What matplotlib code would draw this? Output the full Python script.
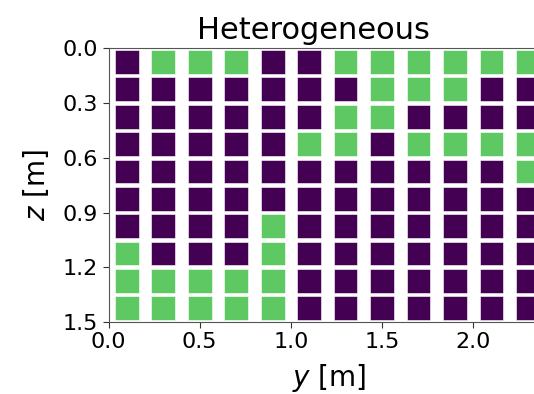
import numpy as np
import matplotlib
matplotlib.use("Agg")
import matplotlib.pyplot as plt

# Cell centres (m)
y_centres = [0.1, 0.3, 0.5, 0.7, 0.9, 1.1, 1.3, 1.5, 1.7, 1.9, 2.1, 2.3]
z_centres = [0.075, 0.225, 0.375, 0.525, 0.675, 0.825, 0.975, 1.125, 1.275, 1.425]

# Material index per cell: 0 = matrix, 1 = inclusion (rows follow z_centres)
material = [
    [0, 1, 1, 1, 0, 0, 1, 1, 1, 1, 1, 1],
    [0, 0, 0, 0, 0, 0, 0, 1, 1, 1, 0, 0],
    [0, 0, 0, 0, 0, 0, 1, 1, 0, 0, 0, 0],
    [0, 0, 0, 0, 0, 1, 1, 0, 1, 1, 1, 1],
    [0, 0, 0, 0, 0, 0, 0, 0, 0, 0, 0, 1],
    [0, 0, 0, 0, 0, 0, 0, 0, 0, 0, 0, 0],
    [0, 0, 0, 0, 1, 0, 0, 0, 0, 0, 0, 0],
    [1, 0, 0, 0, 1, 0, 0, 0, 0, 0, 0, 0],
    [1, 1, 1, 1, 1, 0, 0, 0, 0, 0, 0, 0],
    [1, 1, 1, 1, 1, 0, 0, 0, 0, 0, 0, 0],
]

x_ticks = [0.0, 0.5, 1.0, 1.5, 2.0]
z_ticks = [0.0, 0.3, 0.6, 0.9, 1.2, 1.5]

colors = {0: "#440154", 1: "#5ec962"}

fig = plt.figure(figsize=(5.34, 3.94), dpi=100)
# axes run past the right edge of the canvas
ax = fig.add_axes([0.2032, 0.1827, 0.8266, 0.6947])

Y, Z = np.meshgrid(y_centres, z_centres)
M = np.array(material)
ax.scatter(Y.ravel(), Z.ravel(), c=[colors[m] for m in M.ravel()],
           marker="s", s=292, edgecolors="white", linewidths=0.4, zorder=2)

ax.set_xlim(0, 2.42)
ax.set_ylim(1.5, 0.0)
ax.set_xticks(x_ticks)
ax.set_yticks(z_ticks)
ax.set_xticklabels([f"{t:.1f}" for t in x_ticks])
ax.set_yticklabels([f"{t:.1f}" for t in z_ticks])
ax.tick_params(labelsize=16, color="#333333", length=4)
for sp in ax.spines.values():
    sp.set_color("#555555")

ax.set_xlabel("$y$ [m]", fontsize=20, labelpad=7)
ax.set_ylabel("$z$ [m]", fontsize=20, labelpad=8)
ax.set_title("Heterogeneous", fontsize=22, x=0.465, pad=7)

fig.savefig("out.png", dpi=100)
